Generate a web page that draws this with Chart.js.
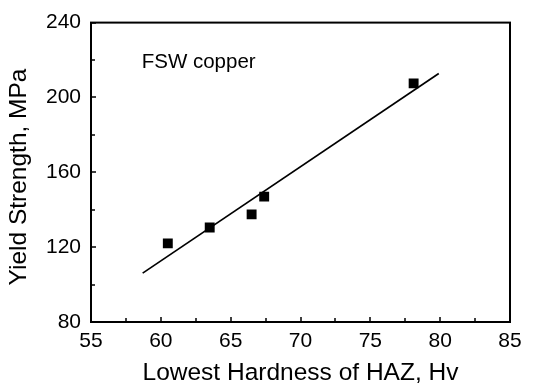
<!DOCTYPE html>
<html><head><meta charset="utf-8">
<script src="https://cdn.jsdelivr.net/npm/chart.js@4"></script>
<style>html,body{margin:0;padding:0;background:#fff}#wrap{width:533px;height:384px}</style>
</head><body><div id="wrap"><canvas id="c" width="533" height="384"></canvas></div>
<script>
const hardness = [60.5, 63.5, 66.5, 67.4, 78.1];
const yieldStrength = [122, 130.5, 137.5, 147, 207.5];
const fitX = [58.7, 79.9];
const fitY = [106.1, 212.8];
const xMajorTicks = [55, 60, 65, 70, 75, 80, 85];
const xMinorTicks = [57.5, 62.5, 67.5, 72.5, 77.5, 82.5];
const yMajorTicks = [80, 120, 160, 200, 240];
const yMinorTicks = [100, 140, 180, 220];
const annotationText = 'FSW copper';
const yTitle = 'Yield Strength, MPa';
const xTitle = 'Lowest Hardness of HAZ, Hv';

const FONT = "'Liberation Sans', Arial, sans-serif";

const innerTicks = {
  id: 'innerTicks',
  afterDraw(chart) {
    const {ctx, chartArea: a, scales: {x, y}} = chart;
    ctx.save();
    ctx.strokeStyle = '#000';
    ctx.lineWidth = 1.5;
    ctx.beginPath();
    xMajorTicks.forEach(v => { const px = Math.round(x.getPixelForValue(v)); ctx.moveTo(px, a.bottom); ctx.lineTo(px, a.bottom - 5); });
    xMinorTicks.forEach(v => { const px = Math.round(x.getPixelForValue(v)); ctx.moveTo(px, a.bottom); ctx.lineTo(px, a.bottom - 4); });
    yMajorTicks.forEach(v => { const py = Math.round(y.getPixelForValue(v)); ctx.moveTo(a.left, py); ctx.lineTo(a.left + 5, py); });
    yMinorTicks.forEach(v => { const py = Math.round(y.getPixelForValue(v)); ctx.moveTo(a.left, py); ctx.lineTo(a.left + 4, py); });
    ctx.stroke();
    ctx.lineWidth = 2;
    ctx.strokeRect(a.left, a.top, a.right - a.left, a.bottom - a.top);
    ctx.fillStyle = '#000';
    ctx.font = '20.5px ' + FONT;
    ctx.textBaseline = 'alphabetic';
    ctx.textAlign = 'left';
    ctx.fillText(annotationText, x.getPixelForValue(58.63), y.getPixelForValue(215.9));
    // y axis title
    ctx.font = '24.5px ' + FONT;
    ctx.textAlign = 'center';
    ctx.textBaseline = 'middle';
    ctx.translate(19, 177);
    ctx.rotate(-Math.PI / 2);
    ctx.fillText(yTitle, 0, 0);
    ctx.restore();
  }
};

new Chart(document.getElementById('c'), {
  type: 'scatter',
  data: {
    datasets: [
      {
        label: 'data',
        data: hardness.map((h, i) => ({x: h, y: yieldStrength[i]})),
        pointStyle: 'rect',
        pointRadius: 7,
        backgroundColor: '#000',
        borderColor: '#000',
        borderWidth: 0,
        showLine: false
      },
      {
        label: 'fit',
        data: fitX.map((h, i) => ({x: h, y: fitY[i]})),
        showLine: true,
        borderColor: '#000',
        borderWidth: 1.7,
        pointRadius: 0,
        fill: false
      }
    ]
  },
  options: {
    responsive: false,
    animation: false,
    devicePixelRatio: 1,
    layout: {padding: {top: 19, right: 23, left: 0, bottom: 0}},
    plugins: {legend: {display: false}, tooltip: {enabled: false}},
    scales: {
      x: {
        type: 'linear', min: 55, max: 85,
        afterBuildTicks(s) { s.ticks = xMajorTicks.map(v => ({value: v})); },
        afterFit(s) { s.height = 62; },
        grid: {display: false, drawTicks: false, tickLength: 0},
        border: {display: false},
        ticks: {color: '#000', font: {family: FONT, size: 21}, padding: 7, maxRotation: 0},
        title: {display: true, text: xTitle, color: '#000', font: {family: FONT, size: 24.5}, padding: {top: 0, bottom: -4}}
      },
      y: {
        type: 'linear', min: 80, max: 240,
        afterBuildTicks(s) { s.ticks = yMajorTicks.map(v => ({value: v})); },
        afterFit(s) { s.width = 91; },
        grid: {display: false, drawTicks: false, tickLength: 0},
        border: {display: false},
        ticks: {color: '#000', font: {family: FONT, size: 21}, padding: 10}
      }
    }
  },
  plugins: [innerTicks]
});
</script></body></html>
